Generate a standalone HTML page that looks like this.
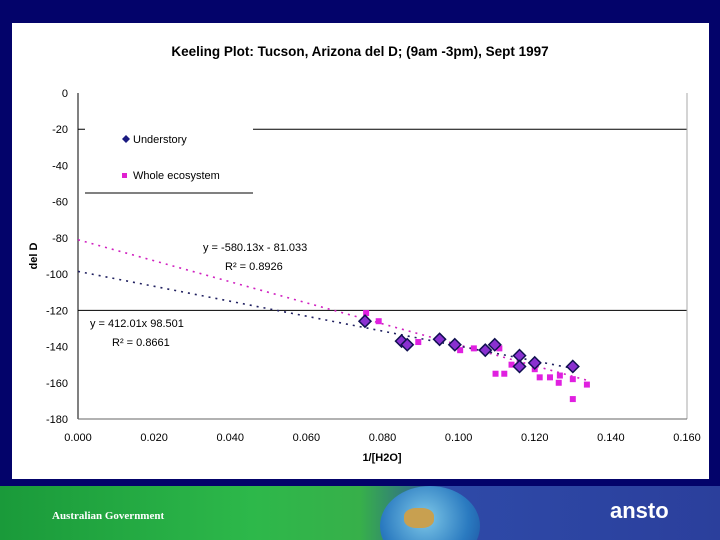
<!DOCTYPE html>
<html><head><meta charset="utf-8"><style>
html,body{margin:0;padding:0}
body{width:720px;height:540px;background:#03036a;position:relative;overflow:hidden;font-family:"Liberation Sans",Arial,sans-serif}
#panel{position:absolute;left:12px;top:23px;width:697px;height:456px;background:#fff}
#footer{position:absolute;left:0;top:486px;width:720px;height:54px;overflow:hidden;background:linear-gradient(90deg,#1a9a3a 0%,#2db84a 35%,#37b04a 50%,#2e4aa8 62%,#2b3f9c 100%)}
svg{position:absolute;left:0;top:0}
</style></head><body>
<div id="panel"></div>
<div id="footer">
 <div style="position:absolute;left:380px;top:0px;width:100px;height:80px;border-radius:50%;background:radial-gradient(circle at 45% 40%,#7ec8e8,#2a7ac0 60%,#1a4a9a)"></div>
 <div style="position:absolute;left:404px;top:22px;width:30px;height:20px;border-radius:40%;background:#c8a050"></div>
 <div style="position:absolute;left:52px;top:24px;color:#fff;font-family:'Liberation Serif',serif;font-size:11px;font-weight:bold">Australian Government</div>
 <div style="position:absolute;left:610px;top:12px;color:#fff;font-size:22px;font-weight:bold">ansto</div>
</div>
<svg id="chart" width="720" height="486"></svg>
<script>
const xTicks=[0,0.02,0.04,0.06,0.08,0.10,0.12,0.14,0.16];
const yTicks=[0,-20,-40,-60,-80,-100,-120,-140,-160,-180];
const underX=[0.0754,0.085,0.0865,0.095,0.099,0.107,0.1095,0.116,0.116,0.120,0.130];
const underY=[-126,-137,-139,-136,-139,-142,-139,-145,-151,-149,-151];
const wholeX=[0.0757,0.079,0.0894,0.1004,0.104,0.1107,0.1097,0.112,0.1139,0.120,0.1213,0.124,0.1266,0.1263,0.130,0.130,0.1337];
const wholeY=[-121.5,-126,-137.5,-142,-141,-141,-155,-155,-150,-152.5,-157,-157,-156,-160,-158,-169,-161];
const underFit=[-412.01,-98.501,0.131];
const wholeFit=[-580.13,-81.033,0.134];
const X0=78,X1=687,Y0=93,Y1=419;
const sx=v=>X0+(v-0)/(0.16)*(X1-X0);
const sy=v=>Y0+(0-v)/180*(Y1-Y0);
const svg=document.getElementById('chart');
const NS='http://www.w3.org/2000/svg';
function mk(t,a,txt){const e=document.createElementNS(NS,t);for(const k in a)e.setAttribute(k,a[k]);if(txt!==undefined)e.textContent=txt;svg.appendChild(e);return e;}
let e;
e=mk('text',{x:360,y:56,'text-anchor':'middle','font-size':13.5,'font-weight':'bold'},'Keeling Plot:  Tucson, Arizona del D; (9am -3pm), Sept 1997');


[-20,-120].forEach(v=>{e=mk('line',{x1:X0,x2:X1,y1:sy(v),y2:sy(v),stroke:'#000','stroke-width':1});

});
e=mk('line',{x1:X1,x2:X1,y1:Y0,y2:Y1,stroke:'#aaa'});


e=mk('line',{x1:X0,x2:X0,y1:Y0,y2:Y1,stroke:'#000'});


e=mk('line',{x1:X0,x2:X1,y1:Y1,y2:Y1,stroke:'#666'});


yTicks.forEach(v=>{e=mk('text',{x:X0-10,y:sy(v)+4,'text-anchor':'end','font-size':11},String(v));

});
xTicks.forEach(v=>{e=mk('text',{x:sx(v),y:441,'text-anchor':'middle','font-size':11},v.toFixed(3));

});
e=mk('text',{x:382,y:461,'text-anchor':'middle','font-size':11,'font-weight':'bold'},'1/[H2O]');


e=mk('text',{x:37,y:256,'text-anchor':'middle','font-size':11,'font-weight':'bold',transform:'rotate(-90 37 256)'},'del D');


e=mk('rect',{x:85,y:128,width:168,height:65,fill:'#fff'});


e=mk('line',{x1:85,x2:253,y1:193,y2:193,stroke:'#000'});


e=mk('path',{d:'M126 135l4 4-4 4-4-4z',fill:'#1a1a80'});


e=mk('text',{x:133,y:143,'font-size':11},'Understory');


e=mk('rect',{x:122,y:173,width:5,height:5,fill:'#e020d0'});


e=mk('text',{x:133,y:179,'font-size':11},'Whole ecosystem');


e=mk('line',{x1:sx(0),y1:sy(wholeFit[1]),x2:sx(wholeFit[2]),y2:sy(wholeFit[0]*wholeFit[2]+wholeFit[1]),stroke:'#d020c0','stroke-width':1.6,'stroke-dasharray':'2 5'});


e=mk('line',{x1:sx(0),y1:sy(underFit[1]),x2:sx(underFit[2]),y2:sy(underFit[0]*underFit[2]+underFit[1]),stroke:'#202060','stroke-width':1.6,'stroke-dasharray':'2 5'});


wholeX.forEach((v,i)=>{e=mk('rect',{x:sx(v)-3,y:sy(wholeY[i])-3,width:6,height:6,fill:'#e020e0'});

});
underX.forEach((v,i)=>{const cx=sx(v),cy=sy(underY[i]);e=mk('path',{d:`M${cx} ${cy-6}l6 6-6 6-6-6z`,fill:'#8a30d0',stroke:'#101050','stroke-width':1.5});

});
e=mk('text',{x:203,y:251,'font-size':11},'y = -580.13x - 81.033');


e=mk('text',{x:225,y:270,'font-size':11},'R² = 0.8926');


e=mk('text',{x:90,y:327,'font-size':11},'y =  412.01x  98.501');


e=mk('text',{x:112,y:346,'font-size':11},'R² = 0.8661');


</script>
</body></html>
